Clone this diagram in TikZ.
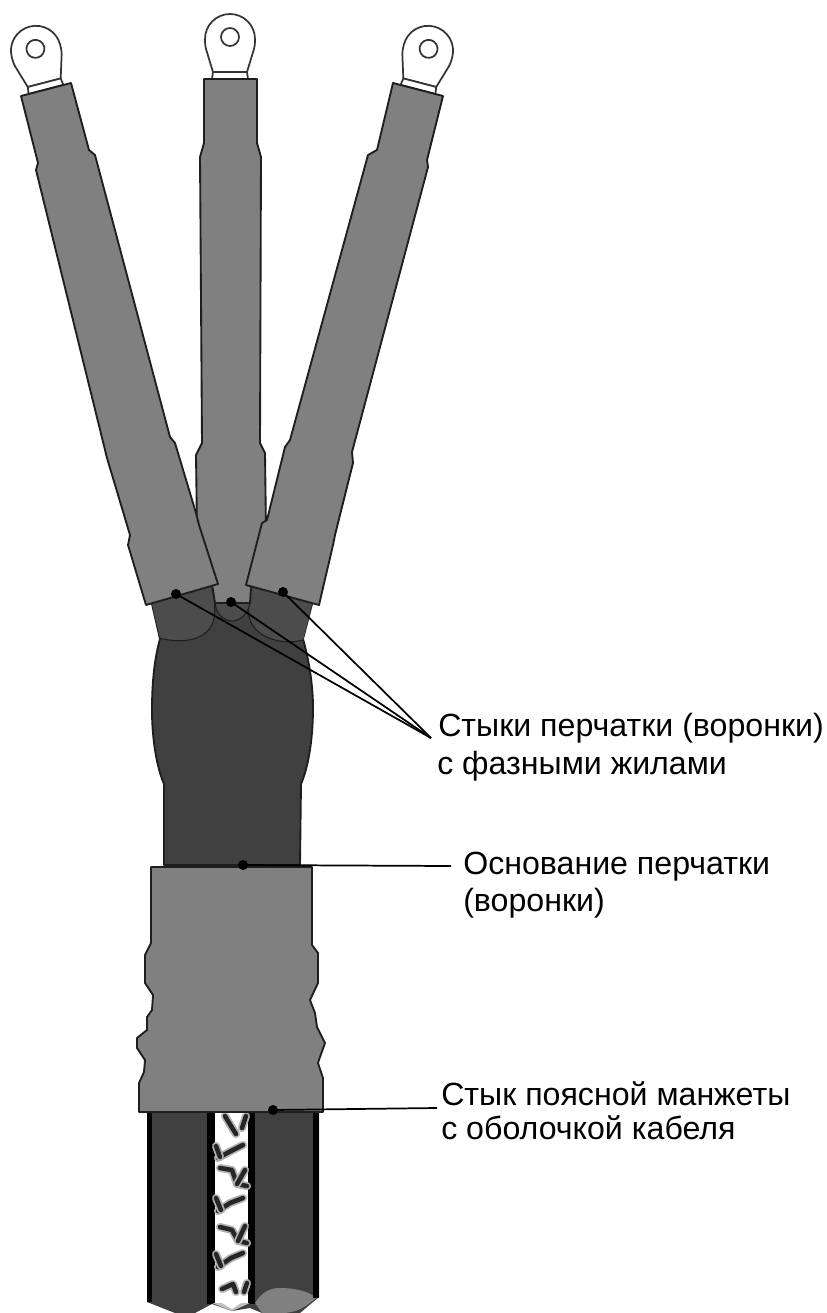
\documentclass[tikz,border=0pt]{standalone}
\usepackage{fontspec}
\setmainfont{Liberation Sans}
\definecolor{midg}{HTML}{808080}
\definecolor{darkg}{HTML}{404040}
\definecolor{shg}{HTML}{4C4C4C}
\definecolor{edge}{HTML}{1E1E1E}
\tikzset{
  part/.style={draw=edge,line width=1.4pt,line join=round},
  arm/.style={part,fill=midg},
  body/.style={part,fill=darkg},
  seam/.style={draw=edge,line width=0.8pt},
  lug/.style={draw=edge!90!white,line width=1.3pt,fill=white},
  dotmark/.style={circle,fill=black,inner sep=0pt,minimum size=7.5pt},
  leader/.style={draw=black,line width=1.3pt},
  lab/.style={anchor=base west,inner sep=0pt,font=\fontsize{24.1}{28}\selectfont},
  braid/.style={draw=black!85,line width=3.4pt,line cap=round,line join=round},
  halo/.style={draw=black!30,line width=6pt,line cap=round,line join=round}
}
\newcommand{\lugshape}{%
  \draw[lug] (-17,-7) -- (-24,-30) .. controls (-25,-34) and (-25,-37) .. (-25,-40)
     arc[start angle=180,end angle=360,radius=25] .. controls (25,-37) and (25,-34) .. (24,-30) -- (17,-7) -- cycle;
  \draw[lug] (-17,-7) -- (17,-7) -- (18,0) -- (-18,0) -- cycle;
  \draw[lug] (0,-42) circle[radius=9];
}
\newcommand{\braidmark}[1]{%
  \draw[halo] #1;
  \draw[braid] #1;
}
\begin{document}
\begin{tikzpicture}[x=0.75pt,y=-0.75pt]
\useasboundingbox (0,0) rectangle (827,1313);
% cable
\fill[darkg] (147,1110) -- (319,1110) -- (319,1297) -- (300,1313) -- (262,1313) -- (250,1308) -- (232,1311) -- (212,1304) -- (195,1313) -- (175,1313) -- (147,1302) -- cycle;
\fill[midg] (255,1303) .. controls (262,1292) and (270,1288) .. (280,1288) .. controls (297,1288) and (310,1292) .. (316,1298) .. controls (305,1308) and (295,1313) .. (282,1313) -- (262,1313) -- cycle;
\fill[black] (147,1110) rectangle (152,1302);
\fill[black] (313,1110) rectangle (319,1298);
\fill[black] (207,1110) rectangle (215,1304);
\fill[black] (248,1110) rectangle (255,1304);
\fill[white] (215,1110) -- (248,1110) -- (248,1303) -- (215,1303) -- cycle;
\fill[black!25] (212,1303) -- (250,1303) -- (232,1311) -- cycle;
\fill[white] (222,1303) -- (241,1303) -- (232,1309) -- cycle;
% braid marks
\braidmark{(225,1116) -- (231,1126) -- (236,1134)}
\braidmark{(246,1116) -- (242,1128)}
\braidmark{(243,1145) -- (231,1151) -- (218,1158)}
\braidmark{(216,1146) -- (220,1157)}
\braidmark{(220,1168) -- (232,1170) -- (237,1184) -- (247,1186)}
\braidmark{(245,1170) -- (237,1184)}
\braidmark{(243,1198) -- (230,1203) -- (218,1211)}
\braidmark{(216,1198) -- (221,1210)}
\braidmark{(220,1227) -- (232,1230) -- (238,1241) -- (247,1243)}
\braidmark{(245,1226) -- (238,1241)}
\braidmark{(243,1253) -- (231,1258) -- (218,1267)}
\braidmark{(216,1254) -- (221,1266)}
\braidmark{(222,1289) -- (233,1284) -- (236,1292)}
\braidmark{(247,1283) -- (244,1292)}
% funnel
\draw[body] (152,604) -- (160,639) .. controls (154,660) and (152,685) .. (152,710)
  .. controls (152,740) and (157,768) .. (164,784) -- (164,865) -- (300,865) -- (301,784)
  .. controls (308,768) and (313,740) .. (313,708) .. controls (313,685) and (309,660) .. (303,639) -- (312,604) -- (250,570) -- (215,570) -- cycle;
\fill[shg] (152,604) -- (160,638) .. controls (172,642) and (205,645) .. (213,622) .. controls (216,612) and (215,600) .. (212,570) -- cycle;
\fill[shg] (312,604) -- (303,640) .. controls (285,645) and (258,640) .. (250,620) .. controls (247,610) and (248,600) .. (250,570) -- cycle;
\draw[seam] (160,638) .. controls (172,642) and (205,645) .. (213,622) .. controls (216,612) and (215,600) .. (212,590);
\draw[seam] (303,640) .. controls (285,645) and (258,640) .. (250,620) .. controls (247,610) and (248,600) .. (250,590);
\draw[seam,fill=shg] (215,603) .. controls (216,614) and (224,621) .. (232,621) .. controls (240,621) and (248,614) .. (250,603) -- cycle;
% lugs
\begin{scope}[shift={(230,79)}]\lugshape\end{scope}
\begin{scope}[shift={(46,89.5)},rotate=14.6]\lugshape\end{scope}
\begin{scope}[shift={(418,89.5)},rotate=-14.6]\lugshape\end{scope}
% centre arm
\draw[arm] (204,79) -- (257,79) -- (257,143) -- (261,157) -- (260,443) -- (265,453) -- (266,530) -- (251,588) -- (250,603) -- (215,603) -- (213,590) -- (197,530) -- (196,455) -- (202,443) -- (200,157) -- (204,143) -- cycle;
% left arm
\draw[arm] (21,96) -- (71,83) -- (89,150) -- (95,155) -- (170,437) -- (175,443) -- (196,513) -- (199,525) -- (218,584) -- (146,605) -- (128,545) -- (130,535) -- (107,458) -- (36,170) -- (38,163) -- cycle;
% right arm
\draw[arm] (443,96) -- (393,83) -- (377,150) -- (368,155) -- (290,440) -- (285,447) -- (267,520) -- (262,523) -- (246,585) -- (319,605) -- (333,545) -- (335,535) -- (353,463) -- (352,452) -- (428,167) -- (427,160) -- cycle;
% sleeve
\draw[arm] (151,867) -- (151,943) -- (145,955) -- (145,983) -- (153,995) -- (152,1010) -- (147,1017) -- (147,1030) -- (137,1038) -- (137,1048) -- (145,1060) -- (144,1072) -- (139,1083) -- (139,1112) -- (323,1112) -- (323,1078) -- (318,1063) -- (320,1057) -- (325,1043) -- (317,1027) -- (315,1013) -- (310,1000) -- (318,983) -- (318,953) -- (312,945) -- (312,867) -- cycle;
% labels
\node[lab] (l1) at (438,736) {Стыки перчатки (воронки)};
\node[lab] (l2) at (437,774) {с фазными жилами};
\node[lab] (l3) at (463,874) {Основание перчатки};
\node[lab] (l4) at (463,911) {(воронки)};
\node[lab] (l5) at (441,1105) {Стык поясной манжеты};
\node[lab] (l6) at (441,1139) {с оболочкой кабеля};
% dots and leaders
\node[dotmark] (d1) at (176,594) {};
\node[dotmark] (d2) at (231,602) {};
\node[dotmark] (d3) at (283,592) {};
\node[dotmark] (d4) at (243,865) {};
\node[dotmark] (d5) at (273,1110) {};
\coordinate (c1) at (431,738);
\coordinate (c2) at (451,866);
\coordinate (c3) at (437,1108);
\draw[leader] (d1.center) -- (c1);
\draw[leader] (d2.center) -- (c1);
\draw[leader] (d3.center) -- (c1);
\draw[leader] (d4.center) -- (c2);
\draw[leader] (d5.center) -- (c3);
\end{tikzpicture}
\end{document}
